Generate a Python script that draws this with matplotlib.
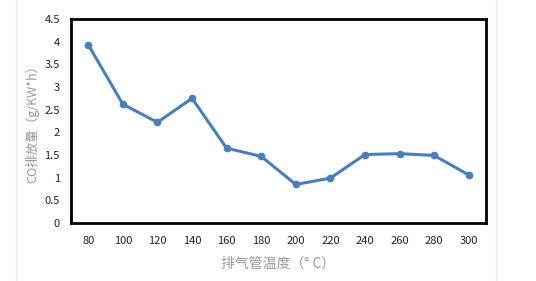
import matplotlib
matplotlib.use("Agg")
import matplotlib.pyplot as plt

plt.rcParams['font.family'] = ['Noto Sans CJK SC', 'DejaVu Sans']

temps = ["80", "100", "120", "140", "160", "180", "200", "220", "240", "260", "280", "300"]
co = [3.93, 2.62, 2.22, 2.75, 1.65, 1.47, 0.85, 0.99, 1.51, 1.53, 1.49, 1.06]
yticks = [0, 0.5, 1, 1.5, 2, 2.5, 3, 3.5, 4, 4.5]
ylabels = ["0", "0.5", "1", "1.5", "2", "2.5", "3", "3.5", "4", "4.5"]

fig = plt.figure(figsize=(5.36, 2.81), dpi=100)
ax = fig.add_axes([71/536, 1 - 223/281, (486-71)/536, (223-19)/281])

x = list(range(len(temps)))
ax.plot(x, co, color="#4a7ebb", linewidth=2.2, marker="o", markersize=4.5)

ax.set_xlim(-0.5, len(temps) - 0.5)
ax.set_ylim(0, 4.5)
ax.set_xticks(x)
ax.set_xticklabels(temps, fontsize=8, color="#222222")
ax.set_yticks(yticks)
ax.set_yticklabels(ylabels, fontsize=8, color="#222222")
ax.tick_params(length=0, pad=8)
ax.tick_params(axis="x", pad=9)
for s in ax.spines.values():
    s.set_linewidth(2)
    s.set_color("black")

ax.set_xlabel("排气管温度（° C）", fontsize=10, color="#999999", labelpad=8)
ax.set_ylabel("CO排放量（g/KW*h）", fontsize=9, color="#999999", labelpad=4)

# faint frame lines of the original screenshot
fig.add_artist(plt.Line2D([16/536, 16/536], [0, 1], color="#eeeeee", linewidth=1))
fig.add_artist(plt.Line2D([496/536, 496/536], [0, 1], color="#eeeeee", linewidth=1))

fig.savefig("out.png", dpi=100)
